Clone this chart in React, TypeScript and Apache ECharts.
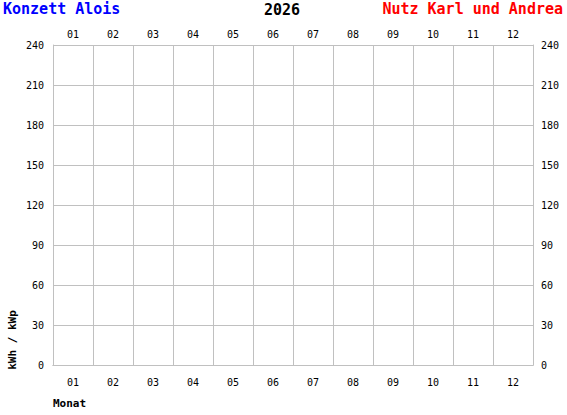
import React, { useEffect, useRef } from "react";
import * as echarts from "echarts";

const months = ["01", "02", "03", "04", "05", "06", "07", "08", "09", "10", "11", "12"];
const values: (number | null)[] = [null, null, null, null, null, null, null, null, null, null, null, null];
const yTicks = { min: 0, max: 240, interval: 30 };
const leftTitle = "Konzett Alois";
const centerTitle = "2026";
const rightTitle = "Nutz Karl und Andrea";
const yName = "kWh / kWp";
const xName = "Monat";

const FONT = "DejaVu Sans Mono";
const GRID = "#c0c0c0";

export default function App() {
  const ref = useRef<HTMLDivElement>(null);
  useEffect(() => {
    if (!ref.current) return;
    const chart = echarts.init(ref.current, undefined, { renderer: "svg" });
    const label = (margin: number) => ({
      color: "#000",
      fontFamily: FONT,
      fontSize: 10,
      margin,
    });
    const xBase = {
      type: "category" as const,
      data: months,
      boundaryGap: true,
      axisLine: { show: true, lineStyle: { color: GRID, width: 1 } },
      axisTick: { show: false },
      splitLine: { show: true, lineStyle: { color: GRID, width: 1 } },
    };
    const yBase = {
      type: "value" as const,
      min: yTicks.min,
      max: yTicks.max,
      interval: yTicks.interval,
      axisLine: { show: true, lineStyle: { color: GRID, width: 1 } },
      axisTick: { show: false },
    };
    chart.setOption({
      animation: false,
      backgroundColor: "#fff",
      grid: { left: 53, top: 45, width: 480, height: 320 },
      xAxis: [
        { ...xBase, position: "bottom", axisLabel: label(12) },
        { ...xBase, position: "top", axisLabel: label(6) },
      ],
      yAxis: [
        {
          ...yBase,
          position: "left",
          splitLine: { show: true, lineStyle: { color: GRID, width: 1 } },
          axisLabel: label(9),
        },
        {
          ...yBase,
          position: "right",
          splitLine: { show: false },
          axisLabel: label(8),
        },
      ],
      series: [{ type: "bar", data: values, xAxisIndex: 0, yAxisIndex: 0 }],
      graphic: [
        {
          type: "text",
          left: 3,
          top: 1,
          style: { text: leftTitle, fill: "#0000ff", font: `bold 15px "${FONT}"` },
        },
        {
          type: "text",
          x: 282,
          y: 2,
          style: { text: centerTitle, fill: "#000", font: `bold 15px "${FONT}"`, textAlign: "center", textVerticalAlign: "top" },
        },
        {
          type: "text",
          right: 4,
          top: 1,
          style: { text: rightTitle, fill: "#ff0000", font: `bold 15px "${FONT}"` },
        },
        {
          type: "text",
          x: 12,
          y: 340,
          rotation: Math.PI / 2,
          style: { text: yName, fill: "#000", font: `bold 11px "${FONT}"`, textAlign: "center", textVerticalAlign: "middle" },
        },
        {
          type: "text",
          x: 53,
          y: 403,
          style: { text: xName, fill: "#000", font: `bold 11px "${FONT}"`, textAlign: "left", textVerticalAlign: "middle" },
        },
      ],
    });
    return () => chart.dispose();
  }, []);
  return <div ref={ref} style={{ position: "fixed", left: 0, top: 0, width: 567, height: 415 }} />;
}
